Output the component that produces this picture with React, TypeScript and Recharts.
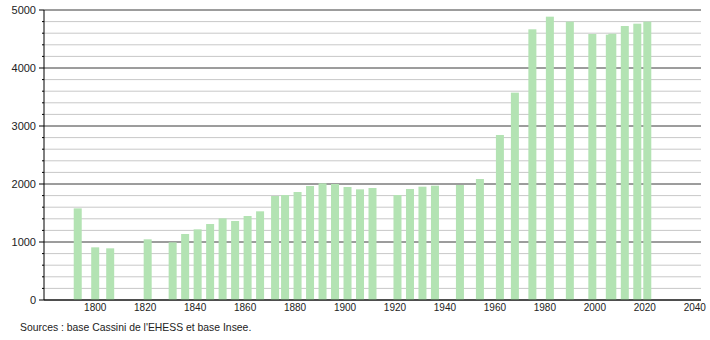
import { BarChart, Bar, XAxis, YAxis, CartesianGrid } from "recharts";

const YEARS = [
  1793, 1800, 1806, 1821, 1831, 1836, 1841, 1846, 1851, 1856, 1861, 1866, 1872, 1876, 1881, 1886, 1891, 1896,
  1901, 1906, 1911, 1921, 1926, 1931, 1936, 1946, 1954, 1962, 1968, 1975, 1982, 1990, 1999, 2006, 2007, 2012,
  2017, 2021,
];
const POPULATION = [
  1580, 908, 891, 1046, 994, 1138, 1218, 1310, 1408, 1362, 1448, 1529, 1793, 1810, 1862, 1966, 2011, 2000,
  1948, 1908, 1931, 1810, 1914, 1954, 1971, 1983, 2086, 2845, 3575, 4667, 4885, 4799, 4586, 4575, 4590, 4724,
  4764, 4799,
];
const X_TICKS = [1800, 1820, 1840, 1860, 1880, 1900, 1920, 1940, 1960, 1980, 2000, 2020, 2040];
const Y_MAJOR = [0, 1000, 2000, 3000, 4000, 5000];
const Y_MINOR = [
  200, 400, 600, 800, 1200, 1400, 1600, 1800, 2200, 2400, 2600, 2800, 3200, 3400, 3600, 3800, 4200, 4400, 4600,
  4800,
];
const SOURCE = "Sources : base Cassini de l'EHESS et base Insee.";

const data = YEARS.map((year, i) => ({ year, pop: POPULATION[i] }));
const yTicks = [...Y_MAJOR, ...Y_MINOR].sort((a, b) => a - b);

const FONT = "'Liberation Sans', Arial, sans-serif";
const BAR_COLOR = "#b3e3b3";
const AXIS_X = 44;

// fixed 8px bars, centred on the year (2006/2007 are too close for recharts' band size)
const BarShape = (props: any) => {
  const { x, y, width, height } = props;
  const cx = x + width / 2;
  return <rect x={cx - 4} y={y} width={8} height={height} fill={BAR_COLOR} />;
};

const YTick = (props: any) => {
  const { y, payload } = props;
  const major = payload.value % 1000 === 0;
  return (
    <g>
      <line x1={AXIS_X - (major ? 5 : 2)} x2={AXIS_X} y1={y} y2={y} stroke="#000" />
      {major && (
        <text x={AXIS_X - 8} y={y} dy={4} textAnchor="end" fontSize={11} fill="#222" fontFamily={FONT}>
          {payload.value}
        </text>
      )}
    </g>
  );
};

const App = () => {
  return (
    <div style={{ position: "absolute", left: 0, top: 0, width: 710, height: 340, background: "#fff" }}>
      <BarChart width={710} height={340} data={data} margin={{ top: 10, right: 9, left: 0, bottom: 20 }}>
        <CartesianGrid vertical={false} horizontalValues={Y_MINOR} stroke="#c8c8c8" />
        <CartesianGrid vertical={false} horizontalValues={Y_MAJOR} stroke="#3a3a3a" />
        <XAxis
          dataKey="year"
          type="number"
          domain={[1779.5, 2042.5]}
          allowDataOverflow
          ticks={X_TICKS}
          interval={0}
          tickLine={false}
          tickSize={0}
          tickMargin={4}
          height={20}
          axisLine={{ stroke: "#000" }}
          tick={{ fontSize: 10, fill: "#222", fontFamily: FONT }}
        />
        <YAxis
          domain={[0, 5000]}
          ticks={yTicks}
          interval={0}
          width={AXIS_X}
          tickLine={false}
          axisLine={{ stroke: "#000" }}
          tick={<YTick />}
        />
        <Bar dataKey="pop" fill={BAR_COLOR} shape={<BarShape />} isAnimationActive={false} />
      </BarChart>
      <div
        style={{
          position: "absolute",
          left: 20,
          top: 322,
          fontSize: 10.4,
          fontFamily: FONT,
          color: "#222",
          whiteSpace: "nowrap",
        }}
      >
        {SOURCE}
      </div>
    </div>
  );
};

export default App;
